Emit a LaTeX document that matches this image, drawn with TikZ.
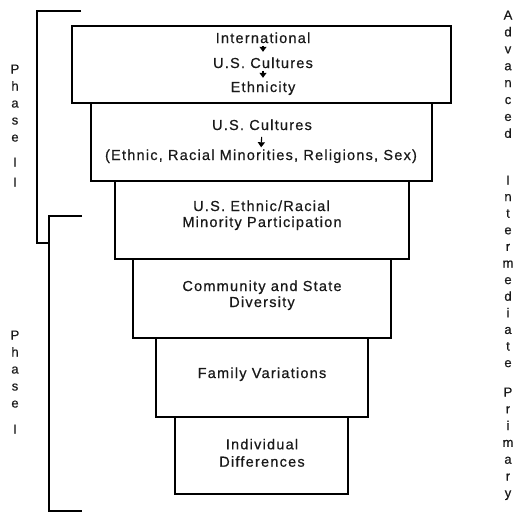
\documentclass[tikz,border=0pt]{standalone}
\usepackage{fontspec}
\setmainfont[FakeBold=0.5]{Liberation Sans}
\newfontfamily\boxfont[LetterSpace=8.5,FakeBold=0.6]{Liberation Sans}
\usetikzlibrary{arrows.meta}
\begin{document}
\begin{tikzpicture}[x=1pt,y=-1pt,
  box/.style={draw, line width=1.3pt, inner sep=0pt},
  txt/.style={font=\boxfont\fontsize{14.5}{16}\selectfont, anchor=base, inner sep=0pt, text=black!90},
  ltr/.style={font=\fontsize{13}{14}\selectfont, anchor=base, inner sep=0pt, text=black!90},
  bk/.style={line width=1.3pt},
  tri/.style={-{Triangle[width=7pt,length=5pt]}, line width=1.1pt}
]
\useasboundingbox (0,0) rectangle (516,515);
% boxes
\node[box, minimum width=379pt, minimum height=77pt] (b1) at (261.5,64.5) {};
\node[box, minimum width=341pt, minimum height=78pt] (b2) at (261.5,142) {};
\node[box, minimum width=294pt, minimum height=78pt] (b3) at (262,220) {};
\node[box, minimum width=258pt, minimum height=79pt] (b4) at (262,298.5) {};
\node[box, minimum width=212pt, minimum height=79pt] (b5) at (262,377.5) {};
\node[box, minimum width=173pt, minimum height=77pt] (b6) at (261.5,455.5) {};
% box 1
\node[txt] (t11) at (263,43) {International};
\node[txt] (t12) at (263,68) {U.S. Cultures};
\node[txt] (t13) at (263,92) {Ethnicity};
\draw[tri, shorten <=2.5pt, shorten >=5.5pt] (t11.south) -- (t12.north);
\draw[tri, shorten <=2.5pt, shorten >=3.5pt] (t12.south) -- (t13.north);
% box 2
\node[txt] (t21) at (262,130) {U.S. Cultures};
\node[txt] (t22) at (261,160) {(Ethnic, Racial Minorities, Religions, Sex)};
\draw[tri, shorten <=6.5pt, shorten >=2pt] (t21.south) -- (t22.north);
% box 3
\node[txt] (t31) at (261.5,211) {U.S. Ethnic/Racial};
\node[txt] (t32) at (262,227) {Minority Participation};
% box 4
\node[txt] (t41) at (262,291) {Community and State};
\node[txt] (t42) at (262,307) {Diversity};
% box 5
\node[txt] (t51) at (262,378) {Family Variations};
% box 6
\node[txt] (t61) at (262,449.3) {Individual};
\node[txt] (t62) at (262,466.7) {Differences};
% brackets
\draw[bk] (81,11) -- (37,11) -- (37,243) -- (49,243);
\draw[bk] (82,216) -- (49,216) -- (49,511) -- (82,511);
% phase labels
\foreach \c [count=\i] in {P,h,a,s,e}
  \node[ltr] (ptwo\i) at (15,{73.5+17*(\i-1)}) {\c};
\node[ltr] (ptwoa) at (15,166.5) {I};
\node[ltr] (ptwob) at (15,186.5) {I};
\foreach \c [count=\i] in {P,h,a,s,e}
  \node[ltr] (pone\i) at (15,{339.5+17*(\i-1)}) {\c};
\node[ltr] (ponea) at (15,433.5) {I};
% level labels
\foreach \c [count=\i] in {A,d,v,a,n,c,e,d}
  \node[ltr] (adv\i) at (508,{19.5+16.9*(\i-1)}) {\c};
\foreach \c [count=\i] in {I,n,t,e,r,m,e,d,i,a,t,e}
  \node[ltr] (int\i) at (508,{184.5+16.6*(\i-1)}) {\c};
\foreach \c [count=\i] in {P,r,i,m,a,r,y}
  \node[ltr] (pri\i) at (508,{396.5+16.8*(\i-1)}) {\c};
\end{tikzpicture}
\end{document}
